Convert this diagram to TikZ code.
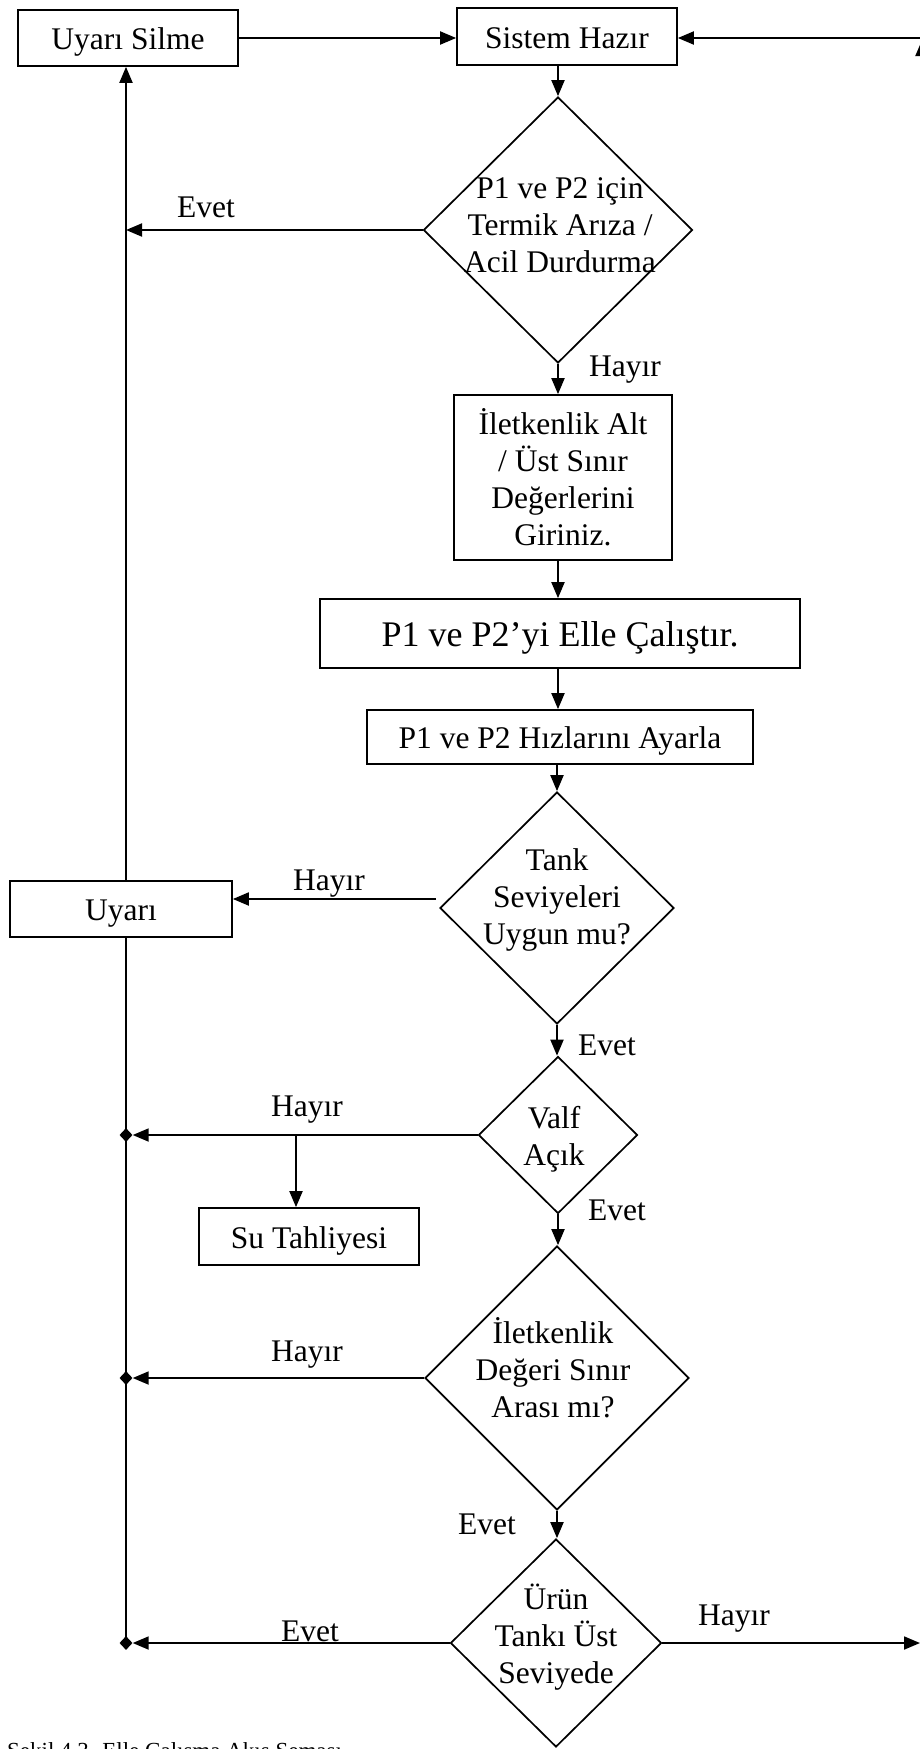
\documentclass[tikz,border=0pt]{standalone}
\usepackage{fontspec}
\setmainfont{Liberation Serif}
\usetikzlibrary{shapes.geometric,arrows.meta}
\begin{document}
\begin{tikzpicture}[x=1pt,y=-1pt,
  every node/.style={font=\fontsize{31.5}{37}\selectfont, inner sep=0pt},
  box/.style={draw, line width=1.7pt, align=center},
  onebox/.style={box, text height=23pt, text depth=0pt},
  dia/.style={draw, diamond, line width=1.7pt, inner sep=0pt},
  txt/.style={align=center},
  arr/.style={line width=1.9pt, -{Triangle[length=16pt,width=13pt]}},
  ln/.style={line width=1.9pt},
  jdot/.style={diamond, fill=black, minimum width=13pt, minimum height=14pt},
]
\useasboundingbox (0,0) rectangle (920,1749);
\clip (0,0) rectangle (920,1749);
\fill[white] (0,0) rectangle (920,1749);

% process boxes
\node[onebox, minimum width=220pt, minimum height=56pt] (silme) at (128,38) {Uyarı Silme};
\node[onebox, minimum width=220pt, minimum height=57pt] (hazir) at (567,36.5) {Sistem Hazır};
\node[box, minimum width=218pt, minimum height=165pt] (iletken) at (563,477.5)
  {İletkenlik Alt\\/ Üst Sınır\\Değerlerini\\Giriniz.};
\node[onebox, minimum width=480pt, minimum height=69pt, text height=26pt,
  font=\fontsize{36}{42}\selectfont] (elle) at (560,633.5) {P1 ve P2’yi Elle Çalıştır.};
\node[onebox, minimum width=386pt, minimum height=54pt] (hiz) at (560,737) {P1 ve P2 Hızlarını Ayarla};
\node[onebox, minimum width=222pt, minimum height=56pt] (uyari) at (121,909) {Uyarı};
\node[onebox, minimum width=220pt, minimum height=57pt] (su) at (309,1236.5) {Su Tahliyesi};

% decisions
\node[dia, minimum width=269pt, minimum height=266pt] (d1) at (558,230) {};
\node[dia, minimum width=234pt, minimum height=232pt] (d2) at (557,908) {};
\node[dia, minimum width=159pt, minimum height=157pt] (d3) at (558,1135) {};
\node[dia, minimum width=264pt, minimum height=264pt] (d4) at (557,1378) {};
\node[dia, minimum width=211pt, minimum height=208pt] (d5) at (556,1643) {};

\node[txt] (d1t) at (560,225) {P1 ve P2 için\\Termik Arıza /\\Acil Durdurma};
\node[txt] (d2t) at (557,900) {Tank\\Seviyeleri\\Uygun mu?};
\node[txt] (d3t) at (554,1139) {Valf\\Açık};
\node[txt] (d4t) at (553,1368) {İletkenlik\\Değeri Sınır\\Arası mı?};
\node[txt] (d5t) at (556,1637) {Ürün\\Tankı Üst\\Seviyede};

% branch labels
\node (e1) at (206,207) {Evet};
\node (h1) at (625,370) {Hayır};
\node (h2) at (329,884) {Hayır};
\node (e2) at (607,1045) {Evet};
\node (h3) at (307,1110) {Hayır};
\node (e3) at (617,1210) {Evet};
\node (h4) at (307,1355) {Hayır};
\node (e4) at (487,1524) {Evet};
\node (e5) at (310,1631) {Evet};
\node (h5) at (734,1619) {Hayır};

% left trunk and its junctions
\coordinate (tx) at (126,0);
\node[jdot] (m3) at (d3.west -| tx) {};
\node[jdot] (m4) at (d4.west -| tx) {};
\node[jdot] (m5) at (d5.west -| tx) {};

% connectors
\draw[arr] (silme.east) -- (silme.east -| hazir.west);
\coordinate (rtop) at (922,38);
\draw[arr] (rtop) -- (rtop -| hazir.east);
\coordinate (rupa) at (922,100);
\coordinate (rupb) at (922,40);
\draw[arr] (rupa) -- (rupb);
\draw[arr] (hazir.south -| d1.north) -- (d1.north);
\draw[arr] (d1.west) -- (d1.west -| tx);
\draw[arr] (d1.south) -- (d1.south |- iletken.north);
\draw[arr] (d1.south |- iletken.south) -- (d1.south |- elle.north);
\draw[arr] (d1.south |- elle.south) -- (d1.south |- hiz.north);
\draw[arr] (d2.north |- hiz.south) -- (d2.north);
\path ([shift={(-3pt,9pt)}]d2.west) coordinate (h2s);
\draw[arr] (h2s) -- (h2s -| uyari.east);
\draw[arr] (uyari.north -| tx) -- (silme.south -| tx);
\draw[ln] (uyari.south -| tx) -- (m5.center);
\draw[arr] (d2.south) -- (d2.south |- d3.north);
\draw[arr] (d3.west) -- (m3.east);
\coordinate (br) at (296,1135);
\draw[arr] (br) -- (br |- su.north);
\draw[arr] (d3.south) -- (d3.south |- d4.north);
\draw[arr] (d4.west) -- (m4.east);
\draw[arr] (d4.south) -- (d4.south |- d5.north);
\draw[arr] (d5.west) -- (m5.east);
\coordinate (rbot) at (920,1643);
\draw[arr] (d5.east) -- (rbot);

% caption
\node[anchor=base west, font=\fontsize{23}{27}\selectfont] (cap) at (7,1758)
  {Şekil 4.3. Elle Çalışma Akış Şeması};
\end{tikzpicture}
\end{document}
